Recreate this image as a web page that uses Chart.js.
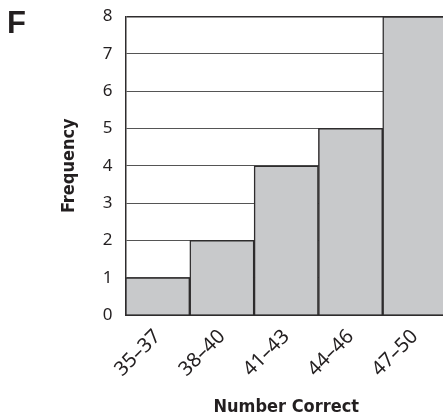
<!DOCTYPE html>
<html>
<head>
<meta charset="utf-8">
<script src="https://cdn.jsdelivr.net/npm/chart.js@4/dist/chart.umd.min.js"></script>
<style>
html,body{margin:0;padding:0;background:#fff;overflow:hidden;}
#wrap{position:relative;width:443px;height:419px;overflow:hidden;}
canvas{display:block;}
</style>
</head>
<body>
<div id="wrap"><canvas id="c" width="447" height="419"></canvas></div>
<script>
const categories = ['35–37', '38–40', '41–43', '44–46', '47–50'];
const frequencies = [1, 2, 4, 5, 8];
const yTicks = [0, 1, 2, 3, 4, 5, 6, 7, 8];
const panelLabel = 'F';
const xTitle = 'Number Correct';
const yTitle = 'Frequency';

const ink = '#231f20';
const condensed = '"Liberation Sans Narrow", "DejaVu Sans Condensed", sans-serif';

const panelPlugin = {
  id: 'panelLabel',
  afterDraw(chart) {
    const ctx = chart.ctx;
    ctx.save();
    ctx.fillStyle = ink;
    ctx.font = 'bold 31px "Liberation Sans", Arial, sans-serif';
    ctx.textAlign = 'left';
    ctx.textBaseline = 'alphabetic';
    ctx.fillText(panelLabel, 7, 33);
    ctx.restore();
  }
};

new Chart(document.getElementById('c'), {
  type: 'bar',
  data: {
    labels: categories,
    datasets: [{
      data: frequencies,
      backgroundColor: '#c8c9cb',
      borderColor: '#2e2c2d',
      borderWidth: 1.5,
      barPercentage: 1,
      categoryPercentage: 1
    }]
  },
  options: {
    responsive: false,
    animation: false,
    layout: { padding: { top: 16.5, right: 0, bottom: 0, left: 0 } },
    plugins: { legend: { display: false }, tooltip: { enabled: false } },
    scales: {
      x: {
        grid: { display: false, drawTicks: false },
        border: { display: true, color: '#2e2c2d', width: 2 },
        ticks: {
          color: ink,
          font: { family: '"Noto Sans", sans-serif', size: 20 },
          minRotation: 45, maxRotation: 45,
          padding: 10
        },
        title: {
          display: true, text: xTitle, color: ink,
          font: { family: condensed, size: 18, weight: 'bold' },
          padding: { top: 0, bottom: 1 }
        },
        afterFit(s) { s.height = 104; s.paddingLeft = 0; s.paddingRight = 0; }
      },
      y: {
        min: 0, max: 8,
        afterBuildTicks(s) { s.ticks = yTicks.map(v => ({ value: v })); },
        grid: {
          drawTicks: false,
          color: (c) => (c.tick && c.tick.value === 8) ? '#2e2c2d' : '#555',
          lineWidth: (c) => (c.tick && c.tick.value === 8) ? 1.5 : 1
        },
        border: { display: true, color: '#2e2c2d', width: 1.5 },
        ticks: {
          color: ink,
          font: { family: '"Noto Sans", sans-serif', size: 17 },
          padding: 13
        },
        title: {
          display: true, text: yTitle, color: ink,
          font: { family: condensed, size: 18, weight: 'bold' },
          padding: { top: 59, bottom: 0 }
        },
        afterFit(s) { s.width = 125.5; s.paddingTop = 0; s.paddingBottom = 0; }
      }
    }
  },
  plugins: [panelPlugin]
});
</script>
</body>
</html>
